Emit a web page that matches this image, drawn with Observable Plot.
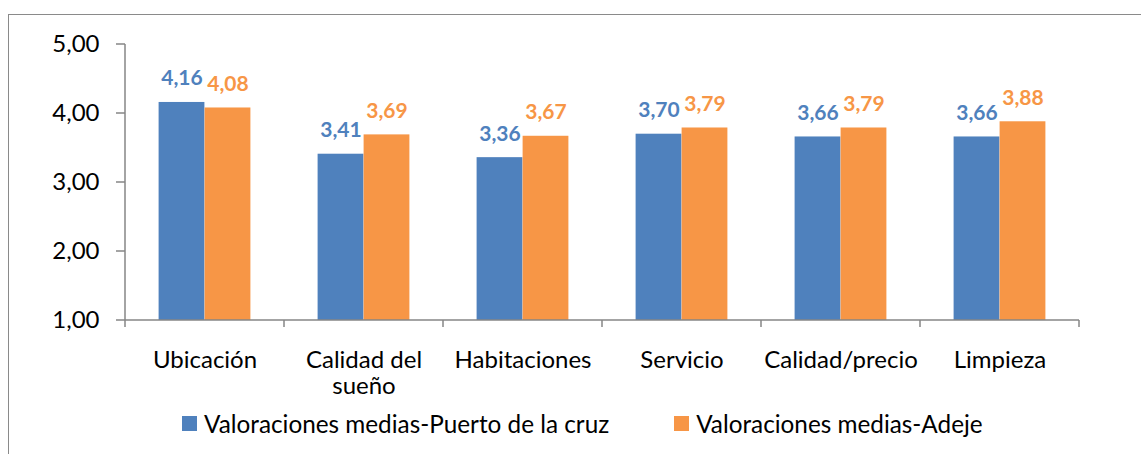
<!DOCTYPE html>
<html>
<head>
<meta charset="utf-8">
<script src="https://cdn.jsdelivr.net/npm/d3@7"></script>
<script src="https://cdn.jsdelivr.net/npm/@observablehq/plot@0.6"></script>
<style>
  html, body { margin: 0; padding: 0; background: #fff; }
  #wrap { position: relative; width: 1141px; height: 454px; overflow: hidden; font-family: Lato, sans-serif; }
  #frame { position: absolute; left: 8px; top: 14px; width: 1200px; height: 500px; border-left: 1.5px solid #8a8a8a; border-top: 1.5px solid #8a8a8a; }
  #chart { position: absolute; left: 0; top: 0; }
  #legend { position: absolute; top: 409px; left: 182px; display: flex; align-items: center; font-size: 24.3px; color: #000; white-space: nowrap; }
  .item { display: flex; align-items: center; }
  .sw { width: 15px; height: 15px; display: inline-block; margin-right: 7px; }
</style>
</head>
<body>
<div id="wrap">
  <div id="frame"></div>
  <div id="chart"></div>
  <div id="legend"></div>
</div>
<script>
const categories = ["Ubicación", "Calidad del sueño", "Habitaciones", "Servicio", "Calidad/precio", "Limpieza"];
const categoryLabels = ["Ubicación", "Calidad del\nsueño", "Habitaciones", "Servicio", "Calidad/precio", "Limpieza"];
const seriesNames = ["Valoraciones medias-Puerto de la cruz", "Valoraciones medias-Adeje"];
const puertoValues = [4.16, 3.41, 3.36, 3.70, 3.66, 3.66];
const adejeValues = [4.08, 3.69, 3.67, 3.79, 3.79, 3.88];
const yTicks = [1, 2, 3, 4, 5];
const colors = ["#4F81BD", "#F79646"];

const fmt = d => d3.format(".2f")(d).replace(".", ",");

const puertoData = categories.map((c, i) => ({cat: c, series: seriesNames[0], value: puertoValues[i]}));
const adejeData = categories.map((c, i) => ({cat: c, series: seriesNames[1], value: adejeValues[i]}));

const axisColor = "#868686";

function axisFrame(index, scales, values, dimensions, context) {
  const x = scales.x, y = scales.y;
  const bw = typeof x.bandwidth === "function" ? x.bandwidth() : (x(categories[1]) - x(categories[0]));
  const xs = categories.map(c => x(c)).concat([x(categories[categories.length - 1]) + bw]);
  const y0 = y(yTicks[0]);
  const yTop = y(yTicks[yTicks.length - 1]);
  const g = d3.create("svg:g").attr("stroke", axisColor).attr("stroke-width", 1.5).attr("fill", "none");
  // x-axis ticks between categories
  g.selectAll("line.t").data(xs).join("line").attr("class", "t")
    .attr("x1", d => d).attr("x2", d => d)
    .attr("y1", y0).attr("y2", y0 + 7);
  // x-axis line
  g.append("line").attr("x1", xs[0]).attr("x2", xs[xs.length - 1]).attr("y1", y0).attr("y2", y0);
  // y-axis line
  g.append("line").attr("x1", xs[0]).attr("x2", xs[0]).attr("y1", yTop).attr("y2", y0);
  // y-axis ticks
  g.selectAll("line.yt").data(yTicks).join("line").attr("class", "yt")
    .attr("x1", xs[0] - 9).attr("x2", xs[0])
    .attr("y1", d => y(d)).attr("y2", d => y(d));
  return g.node();
}

const chart = Plot.plot({
  width: 1141,
  height: 400,
  marginLeft: 124,
  marginRight: 62,
  marginTop: 44,
  marginBottom: 80,
  style: {fontFamily: "Lato, sans-serif", fontSize: "24px", color: "#000", background: "transparent", overflow: "visible"},
  x: {domain: categories, padding: 0, axis: null, label: null},
  y: {domain: [1, 5], axis: null, label: null},
  marks: [
    Plot.barY(puertoData, {x: "cat", y1: 1, y2: "value", fill: colors[0], insetLeft: 33.6, insetRight: 79.6}),
    Plot.barY(adejeData, {x: "cat", y1: 1, y2: "value", fill: colors[1], insetLeft: 79.6, insetRight: 33.6}),
    Plot.text(puertoData, {x: "cat", y: "value", text: d => fmt(d.value), dx: -23, dy: -17, lineAnchor: "bottom", fill: colors[0], fontWeight: "bold", fontSize: 21}),
    Plot.text(adejeData, {x: "cat", y: "value", text: d => fmt(d.value), dx: 23, dy: -17, lineAnchor: "bottom", fill: colors[1], fontWeight: "bold", fontSize: 21}),
    Plot.axisY(yTicks, {label: null, tickSize: 0, tickPadding: 25, tickFormat: fmt, fill: "#000", fontSize: 24}),
    Plot.axisX(categories, {label: null, tickSize: 0, tickPadding: 28, tickFormat: d => categoryLabels[categories.indexOf(d)], fill: "#000", fontSize: 24, lineHeight: 1.12}),
    axisFrame
  ]
});
document.getElementById("chart").appendChild(chart);

const legend = document.getElementById("legend");
seriesNames.forEach((name, i) => {
  const item = document.createElement("div");
  item.className = "item";
  if (i > 0) item.style.marginLeft = "65px";
  const sw = document.createElement("span");
  sw.className = "sw";
  sw.style.background = colors[i];
  const t = document.createElement("span");
  t.textContent = name;
  item.appendChild(sw);
  item.appendChild(t);
  legend.appendChild(item);
});
</script>
</body>
</html>
